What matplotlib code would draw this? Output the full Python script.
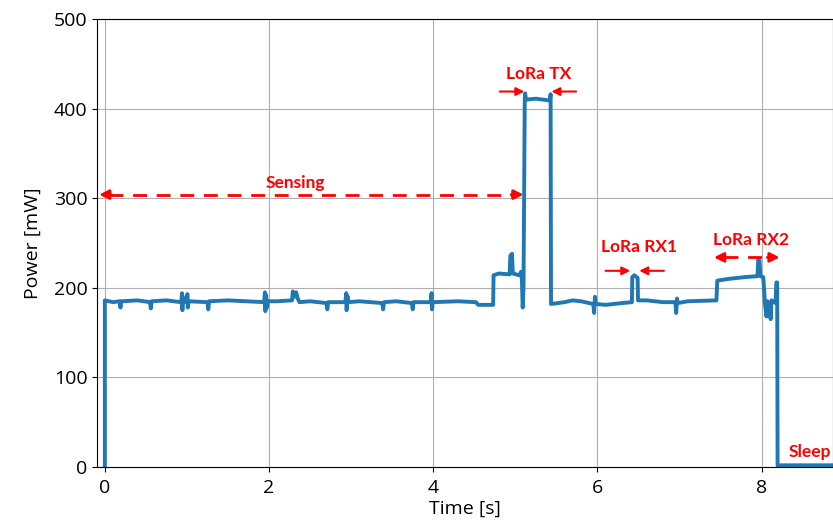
import matplotlib.pyplot as plt

# power trace (time in s, power in mW)
time_s = [
    0.00, 0.00, 0.10, 0.18, 0.19, 0.20, 0.40, 0.55, 0.56, 0.57, 0.75,
    0.93, 0.94, 0.945, 0.95, 0.96, 1.00, 1.005, 1.01, 1.02, 1.25, 1.26, 1.27,
    1.50, 1.94, 1.95, 1.955, 1.965, 1.975, 1.985, 2.10, 2.28, 2.29, 2.31,
    2.33, 2.35, 2.37, 2.50, 2.70, 2.71, 2.72, 2.93, 2.94, 2.945, 2.955,
    2.965, 3.10, 3.38, 3.39, 3.40, 3.55, 3.74, 3.75, 3.76, 3.97, 3.98,
    3.985, 3.995, 4.30, 4.52, 4.55, 4.72, 4.73, 4.735, 4.80, 4.93, 4.94,
    4.96, 4.97, 5.05, 5.07, 5.08, 5.09, 5.10, 5.115, 5.12, 5.13, 5.25,
    5.42, 5.43, 5.435, 5.44, 5.60, 5.70, 5.80, 5.95, 5.96, 5.97, 5.98,
    6.10, 6.30, 6.42, 6.425, 6.45, 6.49, 6.495, 6.60, 6.80, 6.95, 6.96,
    6.97, 6.98, 7.10, 7.45, 7.46, 7.60, 7.80, 7.95, 7.96, 7.975, 7.985,
    8.02, 8.03, 8.04, 8.06, 8.07, 8.10, 8.11, 8.12, 8.17, 8.18, 8.19,
    8.195, 8.90,
]
power_mw = [
    0, 186, 184, 185, 178, 185, 186, 184, 177, 185, 186,
    184, 194, 175, 190, 184, 185, 193, 178, 185, 184, 176, 185,
    186, 184, 195, 174, 192, 178, 185, 185, 186, 196, 190,
    195, 188, 184, 185, 183, 176, 184, 184, 194, 175, 191,
    184, 185, 183, 176, 184, 185, 183, 176, 184, 184, 194,
    176, 184, 185, 184, 181, 181, 181, 214, 216, 215, 236,
    238, 216, 214, 218, 210, 178, 200, 410, 417, 410, 411,
    409, 416, 182, 182, 184, 186, 185, 182, 172, 190, 182,
    181, 183, 184, 212, 214, 211, 186, 186, 184, 184, 172,
    188, 183, 185, 186, 208, 210, 212, 213, 232, 230, 213,
    212, 200, 183, 168, 185, 180, 165, 186, 183, 206, 206,
    2, 2,
]

x_ticks = [0, 2, 4, 6, 8]
y_ticks = [0, 100, 200, 300, 400, 500]

RED = "#ff0000"

fig = plt.figure(figsize=(8.33, 5.26), dpi=100)
ax = fig.add_axes([0.117, 0.112, 0.883, 0.852])

ax.plot(time_s, power_mw, color="#1f77b4", linewidth=2.8)

ax.set_xlim(-0.09, 8.87)
ax.set_ylim(0, 500)
ax.set_xticks(x_ticks)
ax.set_yticks(y_ticks)
ax.grid(True, color="#b0b0b0", linewidth=0.8)
ax.set_axisbelow(True)

tick_font = "Open Sans"
ax.tick_params(labelsize=14)
ax.tick_params(axis="x", pad=5)
for lab in ax.get_xticklabels() + ax.get_yticklabels():
    lab.set_fontfamily(tick_font)
ax.set_xlabel("Time [s]", fontsize=14, family=tick_font, labelpad=2)
ax.set_ylabel("Power [mW]", fontsize=14, family=tick_font, labelpad=9)

ann = dict(color=RED, fontsize=12.5, fontweight="bold", family="Lato",
           ha="center", va="center")


def dashed_double(x0, x1, y):
    ax.plot([x0 + 0.12, x1 - 0.12], [y, y], color=RED, lw=2,
            linestyle=(0, (5, 3.5)))
    for a, b in [(x0 + 0.15, x0), (x1 - 0.15, x1)]:
        ax.annotate("", xy=(b, y), xytext=(a, y),
                    arrowprops=dict(arrowstyle="-|>", color=RED, lw=2,
                                    mutation_scale=14, shrinkA=0, shrinkB=0))


def inward(xl, xr, y, length=0.3):
    for a, b in [(xl - length, xl), (xr + length, xr)]:
        ax.annotate("", xy=(b, y), xytext=(a, y),
                    arrowprops=dict(arrowstyle="-|>", color=RED, lw=1.5,
                                    mutation_scale=12, shrinkA=0, shrinkB=0))


# Sensing
dashed_double(-0.07, 5.10, 304)
ax.text(2.32, 317, "Sensing", **ann)

# LoRa TX
inward(5.11, 5.44, 419)
ax.text(5.28, 439, "LoRa TX", **ann)

# LoRa RX1
inward(6.40, 6.51, 219)
ax.text(6.51, 246, "LoRa RX1", **ann)

# LoRa RX2
dashed_double(7.42, 8.22, 234)
ax.text(7.87, 253, "LoRa RX2", **ann)

# Sleep
ax.text(8.33, 17, "Sleep", color=RED, fontsize=12.5, fontweight="bold",
        family="Lato", ha="left", va="center")

fig.savefig("out.png", dpi=100)
